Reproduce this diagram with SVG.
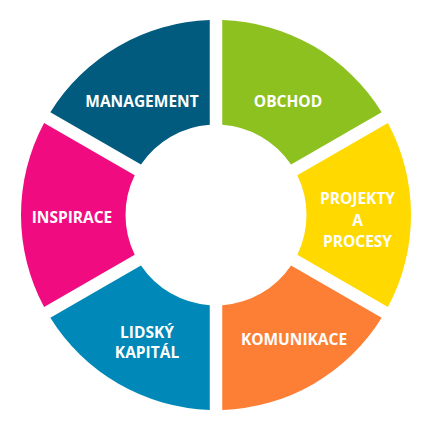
<svg xmlns="http://www.w3.org/2000/svg" width="428" height="431" viewBox="0 0 428 431">
<style>
.lbl{font-family:"Open Sans","Liberation Sans",sans-serif;font-weight:700;font-size:15.5px;fill:#ffffff;text-anchor:middle}
</style>
<rect width="428" height="431" fill="#ffffff"/>
<g id="obchod">
<path d="M 222.25 20.10 A 195 195 0 0 1 381.67 112.14 L 291.06 164.45 A 90.5 90.5 0 0 0 222.25 124.72 Z" fill="#8cc11f"/>
<text class="lbl" x="288" y="107">OBCHOD</text>
</g>
<g id="projekty">
<path d="M 387.92 122.96 A 195 195 0 0 1 387.92 307.04 L 297.31 254.73 A 90.5 90.5 0 0 0 297.31 175.27 Z" fill="#ffd900"/>
<text class="lbl" x="357.5" y="204">PROJEKTY</text>
<text class="lbl" x="357.5" y="226">A</text>
<text class="lbl" x="357.5" y="247">PROCESY</text>
</g>
<g id="komunikace">
<path d="M 381.67 317.86 A 195 195 0 0 1 222.25 409.90 L 222.25 305.28 A 90.5 90.5 0 0 0 291.06 265.55 Z" fill="#fd7e35"/>
<text class="lbl" x="294" y="345">KOMUNIKACE</text>
</g>
<g id="lidsky-kapital">
<path d="M 209.75 409.90 A 195 195 0 0 1 50.34 317.86 L 140.95 265.55 A 90.5 90.5 0 0 0 209.75 305.28 Z" fill="#0088b8"/>
<text class="lbl" x="147" y="338">LIDSKÝ</text>
<text class="lbl" x="147" y="358">KAPITÁL</text>
</g>
<g id="inspirace">
<path d="M 44.09 307.04 A 195 195 0 0 1 44.09 122.96 L 134.70 175.27 A 90.5 90.5 0 0 0 134.70 254.73 Z" fill="#f00c80"/>
<text class="lbl" x="72" y="223">INSPIRACE</text>
</g>
<g id="management">
<path d="M 50.34 112.14 A 195 195 0 0 1 209.75 20.10 L 209.75 124.72 A 90.5 90.5 0 0 0 140.95 164.45 Z" fill="#005b7f"/>
<text class="lbl" x="142" y="107">MANAGEMENT</text>
</g>
<g id="connectors"></g>
</svg>
